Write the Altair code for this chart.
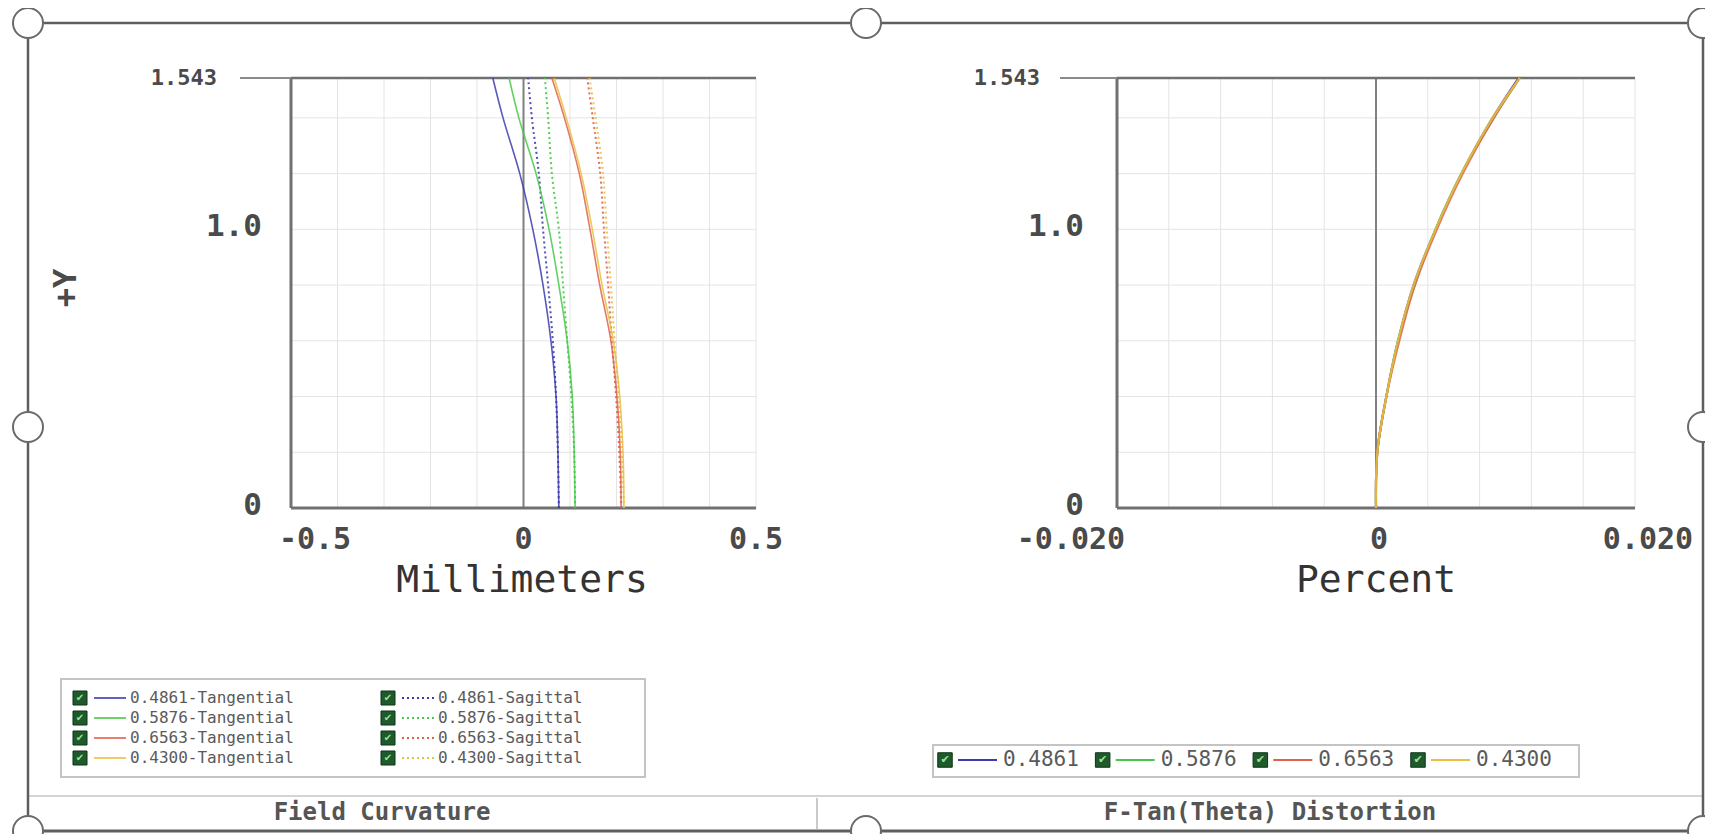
import altair as alt
import pandas as pd

# ---------------- data ----------------
field_y = [0, 0.2, 0.4, 0.6, 0.8, 1.0, 1.2, 1.4, 1.543]
waves = ["0.4861", "0.5876", "0.6563", "0.4300"]
wave_colors = ["#3c3cb0", "#48c848", "#e0604c", "#e8c040"]

tan_4861 = [0.076, 0.074, 0.070, 0.059, 0.042, 0.020, -0.008, -0.044, -0.066]
sag_4861 = [0.076, 0.074, 0.070, 0.063, 0.053, 0.042, 0.033, 0.018, 0.010]
tan_5876 = [0.111, 0.109, 0.105, 0.094, 0.076, 0.055, 0.027, -0.010, -0.031]
sag_5876 = [0.111, 0.109, 0.103, 0.094, 0.085, 0.076, 0.061, 0.053, 0.046]
tan_6563 = [0.210, 0.208, 0.201, 0.188, 0.164, 0.143, 0.120, 0.088, 0.061]
sag_6563 = [0.210, 0.206, 0.199, 0.190, 0.182, 0.173, 0.165, 0.149, 0.137]
tan_4300 = [0.216, 0.214, 0.207, 0.193, 0.169, 0.148, 0.124, 0.092, 0.066]
sag_4300 = [0.216, 0.212, 0.205, 0.196, 0.188, 0.179, 0.171, 0.155, 0.142]

dist_4861 = [0, 0.0001, 0.0008, 0.0017, 0.0029, 0.0046, 0.0066, 0.0090, 0.0110]
dist_5876 = [0, 0.0001, 0.0008, 0.0017, 0.0030, 0.0046, 0.0066, 0.0091, 0.0111]
dist_6563 = [0, 0.0001, 0.0008, 0.0018, 0.0030, 0.0047, 0.0067, 0.0091, 0.0111]
dist_4300 = [0, 0.0001, 0.0008, 0.0017, 0.0029, 0.0046, 0.0066, 0.0090, 0.0111]

y_tick_vals = [0, 1.0]
y_tick_text = ["0", "1.0"]
y_max = 1.543
y_max_text = "1.543"
x_ticks_left = [-0.5, 0, 0.5]
x_ticks_left_text = ["-0.5", "0", "0.5"]
x_ticks_right = [-0.02, 0, 0.02]
x_ticks_right_text = ["-0.020", "0", "0.020"]

fc_legend_left = ["0.4861-Tangential", "0.5876-Tangential", "0.6563-Tangential", "0.4300-Tangential"]
fc_legend_right = ["0.4861-Sagittal", "0.5876-Sagittal", "0.6563-Sagittal", "0.4300-Sagittal"]

title_left_x = "Millimeters"
title_right_x = "Percent"
title_y = "+Y"
tab_left = "Field Curvature"
tab_right = "F-Tan(Theta) Distortion"

# ---------------- build tables ----------------
rows = []
for w, t, s in zip(waves, [tan_4861, tan_5876, tan_6563, tan_4300],
                   [sag_4861, sag_5876, sag_6563, sag_4300]):
    for f, a, b in zip(field_y, t, s):
        rows.append({"field": f, "mm": a, "wave": w, "kind": "T"})
        rows.append({"field": f, "mm": b, "wave": w, "kind": "S"})
df_fc = pd.DataFrame(rows)

rows = []
for w, d in zip(waves, [dist_4861, dist_5876, dist_6563, dist_4300]):
    for f, v in zip(field_y, d):
        rows.append({"field": f, "pct": v, "wave": w})
df_dist = pd.DataFrame(rows)

W, H = 1697, 826
FONT = "DejaVu Sans Mono"
GRID = "#e4e4e4"
AXC = "#707070"
TXT = "#4a4a4a"


def sx_left():
    return alt.Scale(domain=[-0.5, 0.5], range=[283, 748], nice=False, zero=False)


def sx_right():
    return alt.Scale(domain=[-0.02, 0.02], range=[1109, 1627], nice=False, zero=False)


def sy():
    return alt.Scale(domain=[0, y_max], range=[500, 70], nice=False, zero=False)


color_enc = alt.Color("wave:N", scale=alt.Scale(domain=waves, range=wave_colors), legend=None)
one = pd.DataFrame({"a": [0]})
layers = []


def px_rule(x1, x2, y1, y2, color, width):
    return alt.Chart(one).mark_rule(color=color, strokeWidth=width).encode(
        x=alt.value(x1), x2=alt.value(x2), y=alt.value(y1), y2=alt.value(y2))


def px_text(txt, x, y, size, weight="normal", angle=0, align="center", color=TXT, font=FONT):
    kw = dict(font=font, fontSize=size, fontWeight=weight, align=align,
              baseline="middle", color=color)
    if angle:
        kw["angle"] = angle
    return alt.Chart(pd.DataFrame({"t": [txt]})).mark_text(**kw).encode(
        x=alt.value(x), y=alt.value(y), text="t:N")


# legend boxes (background)
for (x1, x2, y1, y2) in [(53, 637, 671, 769), (925, 1571, 737, 769)]:
    layers.append(alt.Chart(one).mark_rect(fill="white", stroke="#c4c4c4", strokeWidth=2).encode(
        x=alt.value(x1), x2=alt.value(x2), y=alt.value(y1), y2=alt.value(y2)))

# panels
for sx, xmin, xmax, step, xpx0, top_ext in [
        (sx_left, -0.5, 0.5, 0.1, 283, 232), (sx_right, -0.02, 0.02, 0.004, 1109, 1052)]:
    gx = [round(xmin + step * i, 4) for i in range(1, 11)]
    gy = [0.2, 0.4, 0.6, 0.8, 1.0, 1.2, 1.4]
    layers.append(alt.Chart(pd.DataFrame({"g": gx})).mark_rule(color=GRID, strokeWidth=1).encode(
        x=alt.X("g:Q", scale=sx(), axis=None),
        y=alt.Y(datum=0, scale=sy(), axis=None), y2=alt.Y2(datum=y_max)))
    layers.append(alt.Chart(pd.DataFrame({"g": gy})).mark_rule(color=GRID, strokeWidth=1).encode(
        y=alt.Y("g:Q", scale=sy(), axis=None),
        x=alt.X(datum=xmin, scale=sx(), axis=None), x2=alt.X2(datum=xmax)))
    # zero line
    layers.append(alt.Chart(one).mark_rule(color="#808080", strokeWidth=2).encode(
        x=alt.X(datum=0, scale=sx(), axis=None),
        y=alt.Y(datum=0, scale=sy(), axis=None), y2=alt.Y2(datum=y_max)))
    # borders
    layers.append(alt.Chart(one).mark_rule(color=AXC, strokeWidth=3).encode(
        x=alt.X(datum=xmin, scale=sx(), axis=None),
        y=alt.Y(datum=0, scale=sy(), axis=None), y2=alt.Y2(datum=y_max)))
    layers.append(alt.Chart(one).mark_rule(color=AXC, strokeWidth=3).encode(
        x=alt.X(datum=xmin, scale=sx(), axis=None), x2=alt.X2(datum=xmax),
        y=alt.Y(datum=0, scale=sy(), axis=None)))
    layers.append(alt.Chart(one).mark_rule(color=AXC, strokeWidth=2.5).encode(
        x=alt.X(datum=xmin, scale=sx(), axis=None), x2=alt.X2(datum=xmax),
        y=alt.Y(datum=y_max, scale=sy(), axis=None)))
    layers.append(alt.Chart(one).mark_rule(color="#8a8a8a", strokeWidth=2).encode(
        x=alt.value(top_ext), x2=alt.value(xpx0),
        y=alt.Y(datum=y_max, scale=sy(), axis=None)))

# field curvature curves
fc_base = alt.Chart(df_fc)
layers.append(fc_base.transform_filter("datum.kind == 'S'").mark_line(
    strokeWidth=2, strokeDash=[2, 3], interpolate="catmull-rom", opacity=0.9).encode(
    x=alt.X("mm:Q", scale=sx_left(), axis=None),
    y=alt.Y("field:Q", scale=sy(), axis=None),
    color=color_enc, order=alt.Order("field:Q")))
layers.append(fc_base.transform_filter("datum.kind == 'T'").mark_line(
    strokeWidth=1.6, interpolate="catmull-rom", opacity=0.85).encode(
    x=alt.X("mm:Q", scale=sx_left(), axis=None),
    y=alt.Y("field:Q", scale=sy(), axis=None),
    color=color_enc, order=alt.Order("field:Q")))

# distortion curves
layers.append(alt.Chart(df_dist).mark_line(strokeWidth=2.2, interpolate="catmull-rom", opacity=0.85).encode(
    x=alt.X("pct:Q", scale=sx_right(), axis=None),
    y=alt.Y("field:Q", scale=sy(), axis=None),
    color=color_enc, order=alt.Order("field:Q")))

# y tick labels
for lab_x, max_x in [(254, 209), (1076, 1032)]:
    layers.append(alt.Chart(pd.DataFrame({"v": y_tick_vals, "t": y_tick_text})).mark_text(
        font=FONT, fontSize=31, fontWeight="bold", align="right", baseline="middle",
        color=TXT, dy=-2).encode(
        x=alt.value(lab_x), y=alt.Y("v:Q", scale=sy(), axis=None), text="t:N"))
    layers.append(alt.Chart(pd.DataFrame({"v": [y_max], "t": [y_max_text]})).mark_text(
        font=FONT, fontSize=22, fontWeight="bold", align="right", baseline="middle",
        color=TXT).encode(
        x=alt.value(max_x), y=alt.Y("v:Q", scale=sy(), axis=None), text="t:N"))

# x tick labels (with small per-label shifts as in the original)
for sx, vals, texts, shifts in [(sx_left, x_ticks_left, x_ticks_left_text, [24, 0, 0]),
                                (sx_right, x_ticks_right, x_ticks_right_text, [-46, 3, 13])]:
    for v, t, d in zip(vals, texts, shifts):
        layers.append(alt.Chart(pd.DataFrame({"v": [v], "t": [t]})).mark_text(
            font=FONT, fontSize=30, fontWeight="bold", align="center", baseline="middle",
            color=TXT, dx=d).encode(
            x=alt.X("v:Q", scale=sx(), axis=None), y=alt.value(532), text="t:N"))

# axis titles
layers.append(px_text(title_left_x, 514, 573, 38, "normal", color="#333333"))
layers.append(px_text(title_right_x, 1368, 573, 38, "normal", color="#333333"))
layers.append(px_text(title_y, 58, 280, 32, "bold", angle=270))

# left legend (field curvature)
leg_rows = []
for i, w in enumerate(waves):
    leg_rows.append({"row": i, "col": 0, "label": fc_legend_left[i], "wave": w})
    leg_rows.append({"row": i, "col": 1, "label": fc_legend_right[i], "wave": w})
df_leg = pd.DataFrame(leg_rows)
lx = alt.X("col:Q", scale=alt.Scale(domain=[0, 1], range=[72, 380]), axis=None)
ly = alt.Y("row:Q", scale=alt.Scale(domain=[0, 3], range=[690, 750]), axis=None)
leg = alt.Chart(df_leg)
layers.append(leg.mark_square(size=196, color="#1e5a2c", stroke="#0d3516", strokeWidth=1, opacity=1).encode(x=lx, y=ly))
layers.append(leg.mark_text(text="\u2714", font="DejaVu Sans", fontSize=10, color="#9be39b").encode(x=lx, y=ly))
layers.append(leg.transform_filter("datum.col == 0").mark_rule(strokeWidth=1.6, xOffset=14, x2Offset=46).encode(
    x=lx, x2="col:Q", y=ly, color=color_enc))
layers.append(leg.transform_filter("datum.col == 1").mark_rule(strokeWidth=2, strokeDash=[2, 3], xOffset=14, x2Offset=46).encode(
    x=lx, x2="col:Q", y=ly, color=color_enc))
layers.append(leg.mark_text(font=FONT, fontSize=16, align="left", baseline="middle", dx=50, color="#5a5a5a").encode(
    x=lx, y=ly, text="label:N"))

# right legend (distortion)
df_leg2 = pd.DataFrame({"idx": list(range(4)), "label": waves, "wave": waves})
rx = alt.X("idx:Q", scale=alt.Scale(domain=[0, 3], range=[937, 1410]), axis=None)
leg2 = alt.Chart(df_leg2)
layers.append(leg2.mark_square(size=210, color="#1e5a2c", stroke="#0d3516", strokeWidth=1, opacity=1).encode(x=rx, y=alt.value(752)))
layers.append(leg2.mark_text(text="\u2714", font="DejaVu Sans", fontSize=11, color="#9be39b").encode(x=rx, y=alt.value(752)))
layers.append(leg2.mark_rule(strokeWidth=1.8, xOffset=13, x2Offset=52).encode(
    x=rx, x2="idx:Q", y=alt.value(752), color=color_enc))
layers.append(leg2.mark_text(font=FONT, fontSize=21, align="left", baseline="middle", dx=58, color="#5a5a5a").encode(
    x=rx, y=alt.value(752), text="label:N"))

# bottom tab bar
layers.append(px_rule(20, 1695, 788, 788, "#d4d4d4", 2))
layers.append(px_rule(809, 809, 790, 821, "#b8b8b8", 1.5))
layers.append(px_text(tab_left, 374, 805, 24, "bold", color="#555555"))
layers.append(px_text(tab_right, 1262, 805, 24, "bold", color="#555555"))

# selection frame with handles
FR = "#5e5e5e"
XR, YB = 1695, 823
layers.append(px_rule(20, XR, 15, 15, FR, 2.5))
layers.append(px_rule(20, XR, YB, YB, FR, 3))
layers.append(px_rule(20, 20, 15, YB, FR, 2.5))
layers.append(px_rule(XR, XR, 15, YB, FR, 2.5))
for (cx, cy) in [(20, 15), (858, 15), (XR, 15), (20, 419), (XR, 419),
                 (20, YB), (858, YB), (XR, YB)]:
    layers.append(alt.Chart(one).mark_point(shape="circle", filled=True, fill="white", stroke="#6a6a6a",
                                            strokeWidth=2, size=900, opacity=1).encode(
        x=alt.value(cx), y=alt.value(cy)))

chart = alt.layer(*layers).resolve_scale(x="independent", y="independent").properties(
    width=W, height=H, autosize=alt.AutoSizeParams(type="none"), padding=0, background="white"
).configure_view(stroke=None)

chart.save("out.html", embed_options={"renderer": "svg", "actions": False})
